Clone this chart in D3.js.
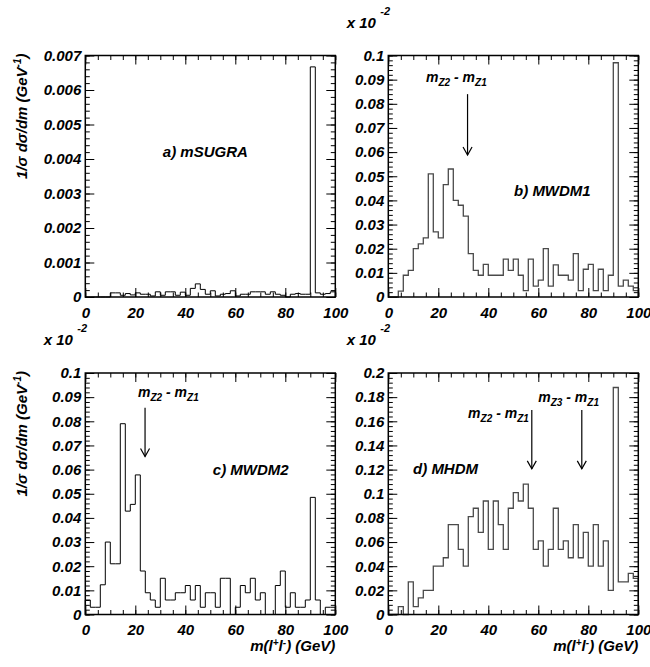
<!DOCTYPE html>
<html>
<head>
<meta charset="utf-8">
<script src="https://cdn.jsdelivr.net/npm/d3@7"></script>
<style>
body { margin: 0; background: #fff; }
text { font-family: "Liberation Sans", Arial, sans-serif; font-weight: bold; font-style: italic; fill: #000; }
.axis text { font-size: 15px; }
</style>
</head>
<body>
<script>
var width = 650, height = 667;

// 50 bins of 2 GeV
var binEdges = [0,2,4,6,8,10,12,14,16,18,20,22,24,26,28,30,32,34,36,38,40,42,44,46,48,50,
	52,54,56,58,60,62,64,66,68,70,72,74,76,78,80,82,84,86,88,90,92,94,96,98,100];

// a) mSUGRA
var mSUGRA = [0, 0, 0, 0, 0, 0.00012, 0.00012, 0.00005, 0.0001, 0.00006,
	0.00012, 0.00008, 0.00008, 0.00003, 0.00015, 0.00005, 0.00015, 0.00015, 0.00005, 0.00014,
	0.00005, 0.00025, 0.00038, 0.00022, 0.00008, 0.00018, 0.00003, 0.00008, 0.0001, 0.00018,
	0.00003, 0.00008, 0.00008, 0.00015, 0.00015, 0.00015, 0.00008, 0.00015, 0.00008, 0.00005,
	0, 0.00008, 0.0001, 0.00008, 0.00008, 0.00667, 0.00012, 0.00008, 0.0001, 0.00015];
// b) MWDM1 (x 10^-2)
var MWDM1 = [0, 0, 0.0024, 0.009, 0.011, 0.020, 0.022, 0.0245, 0.051, 0.027,
	0.0245, 0.0465, 0.053, 0.040, 0.038, 0.0335, 0.018, 0.011, 0.009, 0.0135,
	0.009, 0.009, 0.009, 0.0157, 0.011, 0.0157, 0.009, 0.0026, 0.0157, 0.0045,
	0.007, 0.020, 0.0045, 0.0133, 0.009, 0.009, 0.007, 0.018, 0.0026, 0.0115,
	0.0135, 0.0026, 0.0115, 0.0026, 0.009, 0.097, 0.0045, 0.007, 0.0045, 0.0026];
// c) MWDM2 (x 10^-2)
var MWDM2 = [0.006, 0.003, 0.003, 0.0123, 0.030, 0.021, 0.021, 0.079, 0.0428, 0.0456,
	0.0578, 0.018, 0.009, 0.006, 0.003, 0.015, 0.006, 0.006, 0.009, 0.009,
	0.012, 0.006, 0.012, 0.003, 0.009, 0.009, 0.003, 0.015, 0.015, 0,
	0.003, 0.012, 0.009, 0.015, 0.006, 0.009, 0, 0, 0.012, 0.018,
	0.003, 0.009, 0.003, 0.003, 0.006, 0.0485, 0.006, 0, 0.003, 0.003];
// d) MHDM (x 10^-2)
var MHDM = [0, 0, 0.0066, 0, 0.027, 0.0066, 0.0138, 0.020, 0.020, 0.040,
	0.040, 0.047, 0.0745, 0.0745, 0.054, 0.040, 0.081, 0.088, 0.068, 0.094,
	0.054, 0.094, 0.0745, 0.054, 0.088, 0.101, 0.094, 0.108, 0.088, 0.054,
	0.061, 0.040, 0.054, 0.088, 0.054, 0.061, 0.047, 0.0745, 0.047, 0.068,
	0.040, 0.0745, 0.040, 0.061, 0.020, 0.188, 0.027, 0.027, 0.034, 0.030];

var series = [mSUGRA, MWDM1, MWDM2, MHDM];
var panelNames = ['a) mSUGRA', 'b) MWDM1', 'c) MWDM2', 'd) MHDM'];
var yTop = [0.007, 0.1, 0.1, 0.2];
var yMajor = [0.001, 0.01, 0.01, 0.02];
var xTicks = [0, 20, 40, 60, 80, 100];
var showExp = [false, true, true, true];
// where the panel names sit, in data units [GeV, value]
var namePos = [[31, 0.00406], [50.3, 0.0418], [51, 0.0577], [9.9, 0.1167]];
// arrows: panel, GeV, top value, tip value
var arrows = [[1, 31.7, 0.084, 0.0588], [2, 23.9, 0.0856, 0.0654], [3, 57.4, 0.1694, 0.1206], [3, 77.4, 0.1694, 0.1206]];
// arrow labels: panel, subscript, GeV, value, anchor
var arrowLabels = [[1, 'Z2', 15.1, 0.089, 'start'], [2, 'Z2', 21.1, 0.0902, 'start'],
	[3, 'Z2', 56.2, 0.163, 'end'], [3, 'Z3', 60, 0.1763, 'start']];

var lefts = [85.3, 388.3, 85.3, 388.3], tops = [55.5, 55.5, 373, 373];
var pw = 250, ph = 241.5;
var lineColor = ['#000', '#4a4a4a', '#000', '#4a4a4a'];
var lineWidth = [1, 1.3, 1, 1.3];

var svg = d3.select('body').append('svg').attr('width', width).attr('height', height);

function fmt(v) {
	if (Math.abs(v) < 1e-9) return '0';
	return String(+v.toFixed(4));
}

var scales = [];
series.forEach(function (vals, p) {
	var g = svg.append('g').attr('transform', 'translate(' + lefts[p] + ',' + tops[p] + ')');
	var x = d3.scaleLinear().domain([0, 100]).range([0, pw]);
	var y = d3.scaleLinear().domain([0, yTop[p]]).range([ph, 0]);
	scales.push({x: x, y: y, g: g});

	var yMaj = d3.range(0, yTop[p] + yMajor[p] / 2, yMajor[p]);
	var yMin = d3.range(0, yTop[p] + yMajor[p] / 10, yMajor[p] / 5);
	var xMin = d3.range(0, 101, 5);

	// minor ticks on all sides
	g.append('g').attr('class', 'axis').call(d3.axisLeft(y).tickValues(yMin).tickSize(-4.5).tickFormat('').tickSizeOuter(0));
	g.append('g').attr('class', 'axis').attr('transform', 'translate(' + pw + ',0)')
		.call(d3.axisRight(y).tickValues(yMin).tickSize(-4.5).tickFormat('').tickSizeOuter(0));
	g.append('g').attr('class', 'axis').attr('transform', 'translate(0,' + ph + ')')
		.call(d3.axisBottom(x).tickValues(xMin).tickSize(-4.5).tickFormat('').tickSizeOuter(0));
	g.append('g').attr('class', 'axis')
		.call(d3.axisTop(x).tickValues(xMin).tickSize(-4.5).tickFormat('').tickSizeOuter(0));

	// major ticks + labels
	g.append('g').attr('class', 'axis')
		.call(d3.axisLeft(y).tickValues(yMaj).tickSize(-9).tickPadding(4).tickFormat(fmt).tickSizeOuter(0));
	g.append('g').attr('class', 'axis').attr('transform', 'translate(' + pw + ',0)')
		.call(d3.axisRight(y).tickValues(yMaj).tickSize(-9).tickFormat('').tickSizeOuter(0));
	g.append('g').attr('class', 'axis').attr('transform', 'translate(0,' + ph + ')')
		.call(d3.axisBottom(x).tickValues(xTicks).tickSize(-9).tickPadding(10).tickFormat(d3.format('d')).tickSizeOuter(0));
	g.append('g').attr('class', 'axis')
		.call(d3.axisTop(x).tickValues(xTicks).tickSize(-9).tickFormat('').tickSizeOuter(0));

	g.selectAll('.axis .domain').remove();
	g.selectAll('.axis line').attr('stroke', '#000');

	// histogram as a step line
	var pts = [[0, 0]];
	vals.forEach(function (v, i) {
		pts.push([binEdges[i], v]);
		pts.push([binEdges[i + 1], v]);
	});
	pts.push([100, 0]);
	g.append('path')
		.attr('d', d3.line().x(function (d) { return x(d[0]); }).y(function (d) { return y(d[1]); })(pts))
		.attr('fill', 'none')
		.attr('stroke', lineColor[p])
		.attr('stroke-width', lineWidth[p]);

	// frame
	g.append('rect').attr('width', pw).attr('height', ph)
		.attr('fill', 'none').attr('stroke', '#000').attr('stroke-width', 1.5);

	// panel name
	g.append('text')
		.attr('x', x(namePos[p][0])).attr('y', y(namePos[p][1]))
		.attr('font-size', 15)
		.text(panelNames[p]);

	// x 10^-2
	if (showExp[p]) {
		g.append('text').attr('x', -41.6).attr('y', -28).attr('font-size', 15).text('x 10');
		g.append('text').attr('x', -8).attr('y', -41).attr('font-size', 11).text('-2');
	}

	// y title on left panels
	if (p % 2 === 0) {
		var t = svg.append('text')
			.attr('transform', 'translate(27,' + (tops[p] - 2) + ') rotate(-90)')
			.attr('text-anchor', 'end')
			.attr('font-size', 15);
		t.append('tspan').text('1/σ dσ/dm (GeV');
		t.append('tspan').attr('dy', -6).attr('font-size', 10).text('-1');
		t.append('tspan').attr('dy', 6).text(')');
	}

	// x title on bottom panels
	if (p >= 2) {
		var xt = svg.append('text')
			.attr('x', lefts[p] + pw).attr('y', 651)
			.attr('text-anchor', 'end')
			.attr('font-size', 15);
		xt.append('tspan').text('m(l');
		xt.append('tspan').attr('dy', -5).attr('font-size', 10).text('+');
		xt.append('tspan').attr('dy', 5).text('l');
		xt.append('tspan').attr('dy', -5).attr('font-size', 10).text('-');
		xt.append('tspan').attr('dy', 5).text(') (GeV)');
	}
});

// arrows
arrows.forEach(function (a) {
	var s = scales[a[0]];
	var ax = s.x(a[1]), y1 = s.y(a[2]), y2 = s.y(a[3]);
	s.g.append('line').attr('x1', ax).attr('x2', ax).attr('y1', y1).attr('y2', y2)
		.attr('stroke', '#000').attr('stroke-width', 1.2);
	s.g.append('path')
		.attr('d', 'M' + (ax - 4.5) + ',' + (y2 - 8) + 'L' + ax + ',' + y2 + 'L' + (ax + 4.5) + ',' + (y2 - 8))
		.attr('fill', 'none').attr('stroke', '#000').attr('stroke-width', 1.2);
});

// arrow labels m_Zi - m_Z1
arrowLabels.forEach(function (l) {
	var s = scales[l[0]];
	var t = s.g.append('text')
		.attr('x', s.x(l[2])).attr('y', s.y(l[3]))
		.attr('text-anchor', l[4])
		.attr('font-size', 14);
	t.append('tspan').text('m');
	t.append('tspan').attr('dy', 4).attr('font-size', 10).text(l[1]);
	t.append('tspan').attr('dy', -4).text(' - m');
	t.append('tspan').attr('dy', 4).attr('font-size', 10).text('Z1');
});
</script>
</body>
</html>
